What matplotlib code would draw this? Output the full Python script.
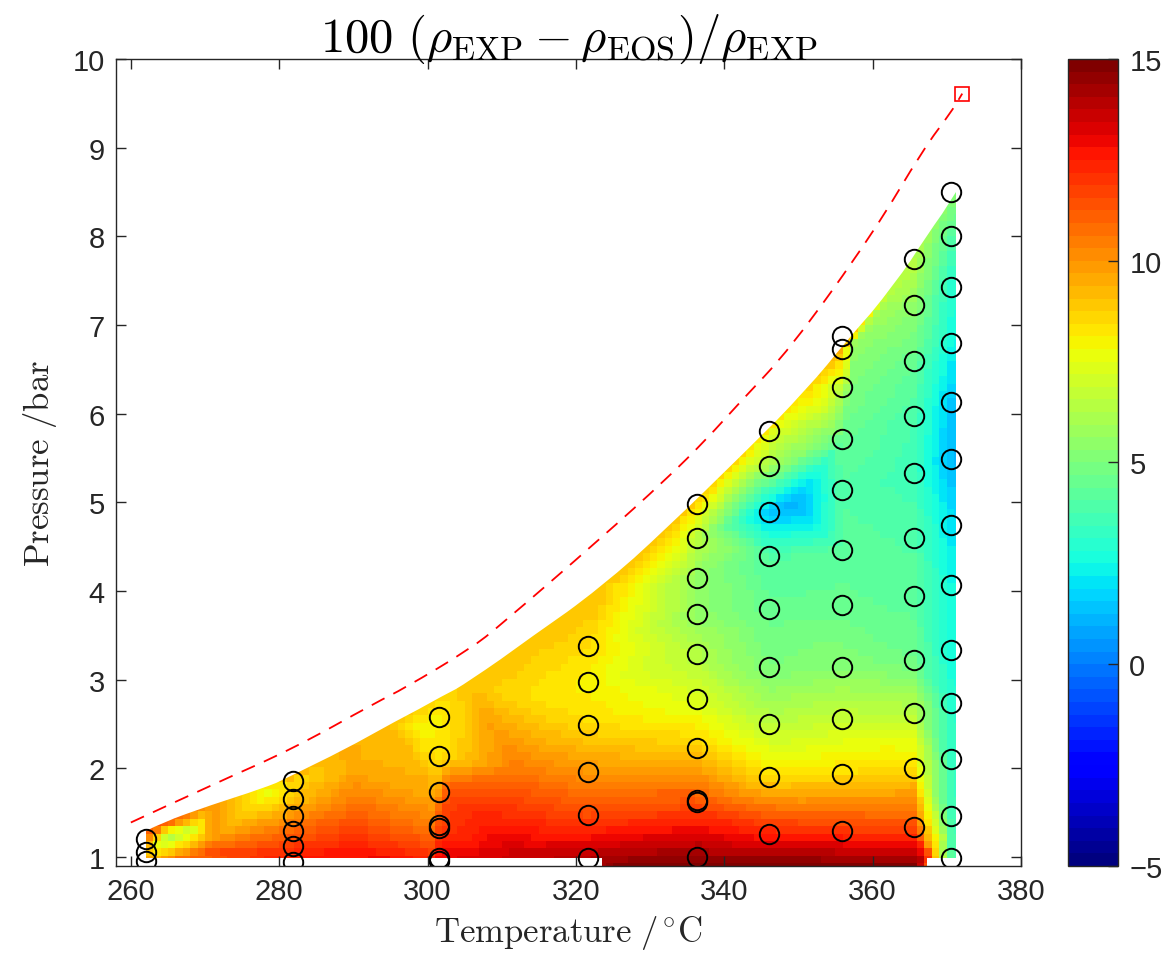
import numpy as np
import matplotlib
matplotlib.use('Agg')
import matplotlib.pyplot as plt
import matplotlib.tri as mtri
from matplotlib.path import Path
from matplotlib.patches import PathPatch

# measured state points (circles): temperature /C, pressure /bar, deviation /%
meas_T = [262.0] * 3 + [281.8] * 6 + [301.6] * 7 + [321.6] * 6 + [336.3] * 10 \
    + [346.1] * 9 + [355.9] * 11 + [365.6] * 11 + [370.6] * 13
meas_P = [1.20, 1.06, 0.96,
          1.86, 1.65, 1.46, 1.29, 1.12, 0.94,
          2.58, 2.14, 1.73, 1.36, 1.33, 0.99, 0.96,
          3.38, 2.97, 2.49, 1.96, 1.48, 0.99,
          4.98, 4.60, 4.15, 3.74, 3.29, 2.78, 2.23, 1.64, 1.62, 1.00,
          5.80, 5.41, 4.89, 4.39, 3.80, 3.14, 2.50, 1.90, 1.26,
          6.88, 6.73, 6.30, 5.71, 5.14, 4.46, 3.84, 3.14, 2.56, 1.94, 1.29,
          7.74, 7.23, 6.60, 5.97, 5.33, 4.60, 3.95, 3.22, 2.62, 2.00, 1.34,
          8.50, 8.00, 7.43, 6.80, 6.13, 5.49, 4.74, 4.07, 3.34, 2.74, 2.11, 1.46, 0.99]
meas_dev = [10.5, 9.0, 10.0,
            8.5, 9.0, 10.0, 11.0, 12.0, 12.5,
            8.0, 8.3, 10.0, 11.8, 11.8, 13.0, 13.0,
            8.5, 8.0, 8.5, 10.0, 11.5, 14.0,
            8.5, 6.5, 5.5, 5.5, 6.3, 7.3, 8.8, 11.3, 11.3, 14.5,
            7.5, 6.0, 1.3, 4.0, 4.5, 5.0, 6.5, 8.5, 12.5,
            9.5, 9.5, 6.5, 4.5, 4.0, 4.2, 4.5, 5.3, 6.8, 8.5, 12.0,
            6.5, 5.5, 4.5, 3.8, 3.5, 4.0, 4.2, 4.7, 6.5, 8.5, 11.5,
            5.5, 4.0, 3.0, 2.5, 1.5, 1.2, 2.0, 2.5, 2.5, 3.0, 3.3, 3.5, 4.0]

# upper edge of the coloured map and its values
top_T = [262.0, 264.0, 270.8, 277.5, 281.6, 288.7, 295.5, 302.2, 305.4, 314.4,
         323.3, 332.3, 342.7, 351.2, 356.6, 362.9, 367.4, 371.3]
top_P = [1.29, 1.38, 1.59, 1.77, 1.91, 2.21, 2.52, 2.83, 2.97, 3.50,
         4.03, 4.71, 5.56, 6.28, 6.83, 7.45, 8.01, 8.50]
top_dev = [11.0, 11.5, 10.0, 8.0, 9.5, 9.5, 9.0, 8.5, 9.0, 9.0,
           9.0, 9.0, 8.5, 8.5, 9.5, 6.5, 5.8, 5.5]

# lower edge of the map
floor_T = [371.3, 367.4, 367.4, 323.5, 323.5, 262.0]
floor_P = [0.99, 0.99, 0.85, 0.85, 0.99, 0.99]

# further map values read inside the field
extra_T = [265.4, 269.0, 278.4, 270.8, 270.8, 290.0, 290.0, 290.0, 300.5, 300.5,
           300.5, 303.0, 312.0, 312.0, 312.0, 349.5, 357.2, 357.2, 367.4, 368.5,
           369.5, 262.0, 300.0, 323.0, 325.0, 366.0, 370.6, 352.5, 298.5]
extra_P = [1.25, 1.34, 1.74, 1.06, 1.20, 1.05, 1.50, 2.00, 1.73, 1.36,
           1.02, 1.73, 1.05, 2.00, 2.80, 5.00, 6.75, 6.30, 1.00, 1.00,
           1.00, 0.88, 0.88, 0.88, 0.88, 0.88, 0.88, 6.20, 2.45]
extra_dev = [6.0, 7.5, 7.5, 11.5, 10.0, 12.8, 11.0, 9.5, 9.5, 10.5,
             12.0, 11.5, 13.5, 10.5, 8.5, 0.8, 5.5, 5.0, 13.0, 9.0,
             6.0, 10.0, 13.0, 14.0, 14.8, 14.8, 4.0, 8.0, 8.0]

# saturation line (dashed) and critical point
sat_T = [260.0, 270.8, 281.6, 293.2, 296.8, 305.8, 309.9, 323.3, 332.3, 337.7,
         341.8, 349.0, 360.2, 366.9, 370.6, 372.1]
sat_P = [1.39, 1.81, 2.21, 2.75, 2.90, 3.35, 3.62, 4.59, 5.27, 5.72,
         6.10, 6.74, 8.05, 8.99, 9.40, 9.61]
crit_T = [372.1]
crit_P = [9.61]


def bezier_through(xs, ys):
    # quadratic bezier that uses the read points as control points
    pts = np.column_stack([xs, ys])
    verts = [pts[0]]
    codes = [Path.MOVETO]
    for i in range(1, len(pts) - 1):
        verts += [pts[i], (pts[i] + pts[i + 1]) / 2]
        codes += [Path.CURVE3, Path.CURVE3]
    verts.append(pts[-1])
    codes.append(Path.LINETO)
    return verts, codes


plt.rcParams['font.family'] = ['Liberation Sans', 'DejaVu Sans']
plt.rcParams['mathtext.fontset'] = 'cm'
dark = (0.15, 0.15, 0.15)

fig = plt.figure(figsize=(11.66, 9.62), dpi=100)
ax = fig.add_axes([0.0995, 0.0988, 0.776, 0.8388])
cax = fig.add_axes([0.916, 0.0988, 0.043, 0.8388])

# triangulate in scaled temperature so columns link sensibly
tscale = 10.0
all_T = np.r_[meas_T, top_T, extra_T]
all_P = np.r_[meas_P, top_P, extra_P]
all_dev = np.r_[meas_dev, top_dev, extra_dev]
tri = mtri.Triangulation(all_T / tscale, all_P)
interp = mtri.LinearTriInterpolator(tri, all_dev)

T_edges = np.arange(258.0, 380.5, 1.0)
P_edges = np.linspace(0.85, 10.0, 111)
TT, PP = np.meshgrid(0.5 * (T_edges[1:] + T_edges[:-1]), 0.5 * (P_edges[1:] + P_edges[:-1]))
Tq = np.clip(TT, 262.0, 370.6)
Pq = np.minimum(PP, np.interp(Tq, top_T, top_P) - 0.01)
Pq = np.maximum(Pq, 0.89)
Z = interp(Tq / tscale, Pq)

cmap = plt.get_cmap('jet', 64)
mesh = ax.pcolormesh(T_edges, P_edges, Z, cmap=cmap, vmin=-5, vmax=15,
                     shading='flat', edgecolors='face', linewidth=0.0)
verts, codes = bezier_through(top_T, top_P)
for t, p in zip(floor_T, floor_P):
    verts.append((t, p))
    codes.append(Path.LINETO)
verts.append(verts[0])
codes.append(Path.CLOSEPOLY)
clip = PathPatch(Path(verts, codes), transform=ax.transData, facecolor='none', edgecolor='none')
mesh.set_clip_path(clip)

sv, sc = bezier_through(sat_T, sat_P)
ax.add_patch(PathPatch(Path(sv, sc), fill=False, edgecolor='red', lw=1.3,
                       ls=(0, (8, 5.5))))
ax.plot(crit_T, crit_P, 's', color='red', mfc='none', ms=10, mew=1.2)
ax.plot(meas_T, meas_P, 'o', color='black', mfc='none', ms=14, mew=1.4)

ax.set_xlim(258, 380)
ax.set_ylim(0.9, 10)
ax.set_xticks(range(260, 381, 20))
ax.set_yticks(range(1, 11))
ax.tick_params(direction='in', length=7, width=1.0, colors=dark, labelsize=21,
               top=True, right=True, pad=8)
for s in ax.spines.values():
    s.set_color(dark)
    s.set_linewidth(1.0)

ax.set_title(r'$100\ (\rho_{\mathrm{EXP}} - \rho_{\mathrm{EOS}})/\rho_{\mathrm{EXP}}$',
             fontsize=35, pad=6)
ax.set_xlabel(r'$\mathrm{Temperature}\ /^{\circ}\mathrm{C}$', fontsize=25, color=dark, labelpad=6)
ax.set_ylabel(r'$\mathrm{Pressure}\ /\mathrm{bar}$', fontsize=25, color=dark, labelpad=10)

cb = fig.colorbar(mesh, cax=cax, ticks=[-5, 0, 5, 10, 15])
cb.outline.set_edgecolor(dark)
cb.outline.set_linewidth(1.0)
cax.tick_params(direction='in', length=7, width=1.0, colors=dark, labelsize=21, pad=8)

fig.savefig('out.png', dpi=100)
